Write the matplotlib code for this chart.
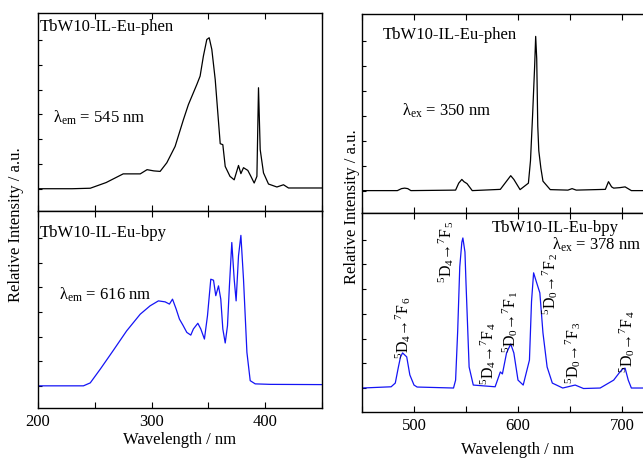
import numpy as np
import matplotlib
matplotlib.use("Agg")
import matplotlib.pyplot as plt
from matplotlib.ticker import MultipleLocator

plt.rcParams['font.family'] = 'Liberation Serif'
plt.rcParams['mathtext.fontset'] = 'custom'
plt.rcParams['mathtext.rm'] = 'Liberation Serif'
plt.rcParams['mathtext.it'] = 'Liberation Serif:italic'
plt.rcParams['xtick.direction'] = 'in'
plt.rcParams['ytick.direction'] = 'in'

# excitation, TbW10-IL-Eu-phen (em 545 nm)
exc_phen_wl = [200, 230, 246, 260, 275, 290, 296, 302, 307.5, 313.4, 320.7, 328, 332.4, 339.8,
               342.7, 345.6, 348.6, 350.7, 353, 356, 360.4, 362.7, 364.8, 369, 372.7, 376.5,
               378.6, 380.9, 384.7, 387.4, 390.3, 392.7, 394.1, 395.6, 398.5, 402.9, 410.3,
               416.1, 420.5, 450]
exc_phen_int = [0, 0, 0.02, 0.25, 0.6, 0.6, 0.77, 0.72, 0.7, 1.05, 1.71, 2.79, 3.4, 4.21,
                4.55, 5.36, 6.03, 6.1, 5.63, 4.41, 1.82, 1.78, 0.9, 0.5, 0.36, 0.94,
                0.61, 0.85, 0.74, 0.5, 0.23, 0.5, 4.08, 1.58, 0.64, 0.19, 0.07,
                0.16, 0.03, 0.03]

# excitation, TbW10-IL-Eu-bpy (em 616 nm)
exc_bpy_wl = [200, 240, 246, 255, 266, 278, 290, 298.7, 306, 311.9, 315.7, 318.4, 321.6, 324.5,
              327.5, 331, 334.5, 336.8, 340.7, 343.3, 346.5, 349.2, 352.1, 354.5, 356.5, 358.9,
              360.9, 362.7, 364.8, 366.8, 368.5, 370.6, 372.7, 374.4, 376.5, 378.6, 380.9,
              383.9, 386.8, 391.2, 404.4, 450]
exc_bpy_int = [0, 0, 0.12, 0.69, 1.42, 2.23, 2.91, 3.25, 3.45, 3.41, 3.32, 3.52, 3.12, 2.71,
               2.47, 2.17, 2.06, 2.31, 2.54, 2.31, 1.9, 2.85, 4.33, 4.29, 3.66, 4.06,
               3.52, 2.31, 1.74, 2.44, 4.06, 5.82, 4.33, 3.45, 5.28, 6.11, 4.33,
               1.36, 0.21, 0.08, 0.06, 0.05]

# emission, TbW10-IL-Eu-phen (ex 350 nm)
em_phen_wl = [450, 484, 488, 491, 494, 497, 540, 543, 546, 548, 551, 556, 583, 589, 593, 596,
              602, 610, 612, 614, 616, 617, 618, 619, 620, 622, 624, 631, 648, 652, 656, 684,
              687, 690, 692, 698, 703, 709, 750]
em_phen_int = [0, 0, 0.08, 0.1, 0.08, 0, 0.02, 0.3, 0.45, 0.36, 0.28, 0, 0.05, 0.38, 0.6, 0.45,
               0.04, 0.3, 1.2, 3.0, 5.0, 6.2, 5.3, 2.6, 1.6, 0.9, 0.38, 0.04, 0.02, 0.08, 0.02,
               0.05, 0.36, 0.15, 0.1, 0.12, 0.15, 0, 0]

# emission, TbW10-IL-Eu-bpy (ex 378 nm)
em_bpy_wl = [450, 478, 482, 485, 487, 489, 493, 496, 500, 503, 538, 540, 542, 544, 546, 547,
             549, 550, 553, 557, 578, 583, 585, 589, 593, 596, 600, 605, 611, 613, 615, 618,
             621, 624, 628, 633, 643, 655, 663, 679, 692, 698, 701, 703, 706, 709, 750]
em_bpy_int = [0, 0.05, 0.2, 0.85, 1.25, 1.42, 1.26, 0.53, 0.12, 0.04, 0, 0.32, 2.3, 4.9, 5.9, 6.07,
              5.5, 4.25, 0.85, 0.12, 0.05, 0.65, 0.57, 1.42, 1.78, 1.42, 0.32, 0.12, 1.13, 3.5,
              4.66, 4.25, 3.85, 2.23, 0.85, 0.2, 0, 0.12, -0.02, 0, 0.32, 0.65, 0.78, 0.8,
              0.32, 0, 0]

# transition labels (centre wavelength, centre height)
trans_labels = ['$^5$D$_4$\u2192$^7$F$_6$', '$^5$D$_4$\u2192$^7$F$_5$',
                '$^5$D$_4$\u2192$^7$F$_4$', '$^5$D$_0$\u2192$^7$F$_1$',
                '$^5$D$_0$\u2192$^7$F$_2$', '$^5$D$_0$\u2192$^7$F$_3$',
                '$^5$D$_0$\u2192$^7$F$_4$']
trans_x = [490, 531, 571, 592, 631, 653, 705]
trans_y = [2.43, 5.5, 1.38, 2.67, 4.2, 1.42, 1.86]

W, H = 643, 458
fig = plt.figure(figsize=(W / 100, H / 100), dpi=100)


def box(x0, x1, y0, y1):
    return [x0 / W, (H - y1) / H, (x1 - x0) / W, (y1 - y0) / H]


ax1 = fig.add_axes(box(38, 322, 13, 211))
ax2 = fig.add_axes(box(38, 322, 211, 408))
ax3 = fig.add_axes(box(362, 674, 14, 213))
ax4 = fig.add_axes(box(362, 674, 213, 412))

ax1.plot(exc_phen_wl, exc_phen_int, color='black', lw=0.9)
ax2.plot(exc_bpy_wl, exc_bpy_int, color='#1414f5', lw=0.9)
ax3.plot(em_phen_wl, em_phen_int, color='black', lw=0.9)
ax4.plot(em_bpy_wl, em_bpy_int, color='#1414f5', lw=0.9)

for ax in (ax1, ax2):
    ax.set_xlim(200, 450)
    ax.xaxis.set_major_locator(MultipleLocator(100))
    ax.xaxis.set_minor_locator(MultipleLocator(50))
for ax in (ax3, ax4):
    ax.set_xlim(450, 750)
    ax.set_xticks([500, 600, 700])
    ax.xaxis.set_minor_locator(MultipleLocator(50))
    ax.spines['right'].set_visible(False)

for ax in (ax1, ax2, ax3, ax4):
    ax.set_ylim(-0.9, 7.1)
    ax.set_yticks(range(7))
    ax.tick_params(axis='y', left=True, right=False, labelleft=False, length=3, width=0.8)
    ax.tick_params(axis='x', which='both', top=True, bottom=True, length=4, width=0.8,
                   labelsize=12, pad=4)
    for s in ax.spines.values():
        s.set_linewidth(1.0)
ax4.set_ylim(-0.97, 7.08)

for ax in (ax1, ax3):
    ax.tick_params(axis='x', labelbottom=False)

ax2.set_xlabel('Wavelength / nm', fontsize=12, labelpad=2)
ax4.set_xlabel('Wavelength / nm', fontsize=12, labelpad=6)

fig.text(16 / W, 1 - 225 / H, 'Relative Intensity / a.u.', rotation=90, fontsize=12,
         ha='center', va='center')
fig.text(352 / W, 1 - 207 / H, 'Relative Intensity / a.u.', rotation=90, fontsize=12,
         ha='center', va='center')

ax1.text(201.8, 6.36, 'TbW10-IL-Eu-phen', fontsize=12, va='baseline')
ax1.text(213, 2.67, '$\\mathrm{\\lambda}_{\\mathrm{em}}$ = 545 nm', fontsize=12, va='baseline')
ax2.text(201.8, 6.03, 'TbW10-IL-Eu-bpy', fontsize=12, va='baseline')
ax2.text(218.5, 3.52, '$\\mathrm{\\lambda}_{\\mathrm{em}}$ = 616 nm', fontsize=12, va='baseline')
ax3.text(470, 6.11, 'TbW10-IL-Eu-phen', fontsize=12, va='baseline')
ax3.text(488.5, 3.0, '$\\mathrm{\\lambda}_{\\mathrm{ex}}$ = 350 nm', fontsize=12, va='baseline')
ax4.text(575, 6.32, 'TbW10-IL-Eu-bpy', fontsize=12, va='baseline')
ax4.text(633, 5.59, '$\\mathrm{\\lambda}_{\\mathrm{ex}}$ = 378 nm', fontsize=12, va='baseline')

for lab, x, y in zip(trans_labels, trans_x, trans_y):
    ax4.text(x, y, lab, rotation=90, fontsize=11.5, ha='center', va='center')

fig.savefig('out.png', dpi=100)
